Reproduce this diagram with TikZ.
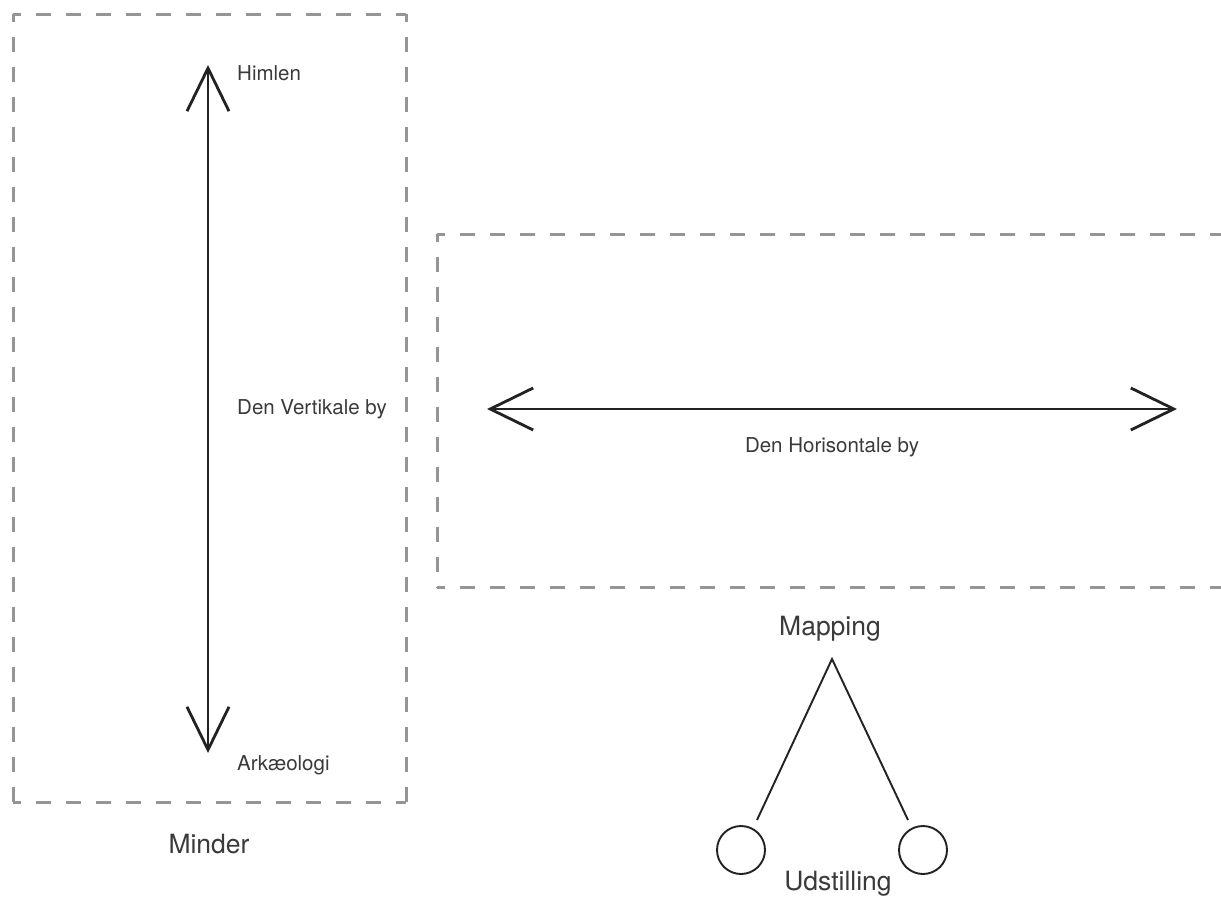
\documentclass[tikz,border=0pt]{standalone}
\usepackage{fontspec}
\setmainfont{TeX Gyre Heros}
\usetikzlibrary{arrows.meta}
\definecolor{boxgray}{HTML}{959595}
\definecolor{txtgray}{HTML}{3A3A3A}
\definecolor{inkblack}{HTML}{222222}
\begin{document}
\begin{tikzpicture}[x=1pt,y=-1pt,
  dashbox/.style={draw=boxgray,line width=3pt,dash pattern=on 15pt off 15pt,dash phase=7.5pt},
  biarrow/.style={draw=inkblack,line width=2.8pt,{Straight Barb[length=43pt,width=42pt]}-{Straight Barb[length=43pt,width=42pt]}},
  smalltxt/.style={text=txtgray,font=\fontsize{20.5}{24}\selectfont,inner sep=0pt},
  bigtxt/.style={text=txtgray,font=\fontsize{26.5}{30}\selectfont,inner sep=0pt},
  thinline/.style={draw=inkblack,line width=1.9pt},
  ring/.style={circle,draw=inkblack,line width=1.9pt,minimum size=48pt,inner sep=0pt}]
\useasboundingbox (0,0) rectangle (1221,910);
\clip (0,0) rectangle (1221,910);
\fill[white] (0,0) rectangle (1221,910);
% left box corners
\coordinate (a1) at (13,14);
\coordinate (a2) at (406,14);
\coordinate (a3) at (406,802);
\coordinate (a4) at (13,802);
\draw[dashbox] (a1) -- (a2);
\draw[dashbox] (a2) -- (a3);
\draw[dashbox] (a4) -- (a3);
\draw[dashbox] (a1) -- (a4);
% right box corners
\coordinate (b1) at (437,234);
\coordinate (b2) at (1240,234);
\coordinate (b3) at (1240,587);
\coordinate (b4) at (437,587);
\draw[dashbox] (b1) -- (b2);
\draw[dashbox] (b1) -- (b4);
\draw[dashbox] (b4) -- (b3);
% arrows
\coordinate (vtop) at (208,65);
\coordinate (vbot) at (208,753);
\coordinate (hl) at (487,409);
\coordinate (hr) at (1177,409);
\draw[biarrow] (vtop) -- (vbot);
\draw[biarrow] (hl) -- (hr);
% labels
\node[smalltxt,anchor=base west] (himlen) at (237,80) {Himlen};
\node[smalltxt,anchor=base west] (vert) at (237,414) {Den Vertikale by};
\node[smalltxt,anchor=base west] (ark) at (237,770) {Arkæologi};
\node[smalltxt,anchor=base] (hor) at (832,452) {Den Horisontale by};
\node[bigtxt,anchor=base] (minder) at (209,853) {Minder};
\node[bigtxt,anchor=base] (mapping) at (830,635) {Mapping};
\node[bigtxt,anchor=base] (udst) at (838,890) {Udstilling};
% tree
\coordinate (apex) at (832,659);
\coordinate (lend) at (757,820);
\coordinate (rend) at (908,820);
\node[ring] (c1) at (741,850) {};
\node[ring] (c2) at (923,850) {};
\draw[thinline] (lend) -- (apex) -- (rend);
\end{tikzpicture}
\end{document}
